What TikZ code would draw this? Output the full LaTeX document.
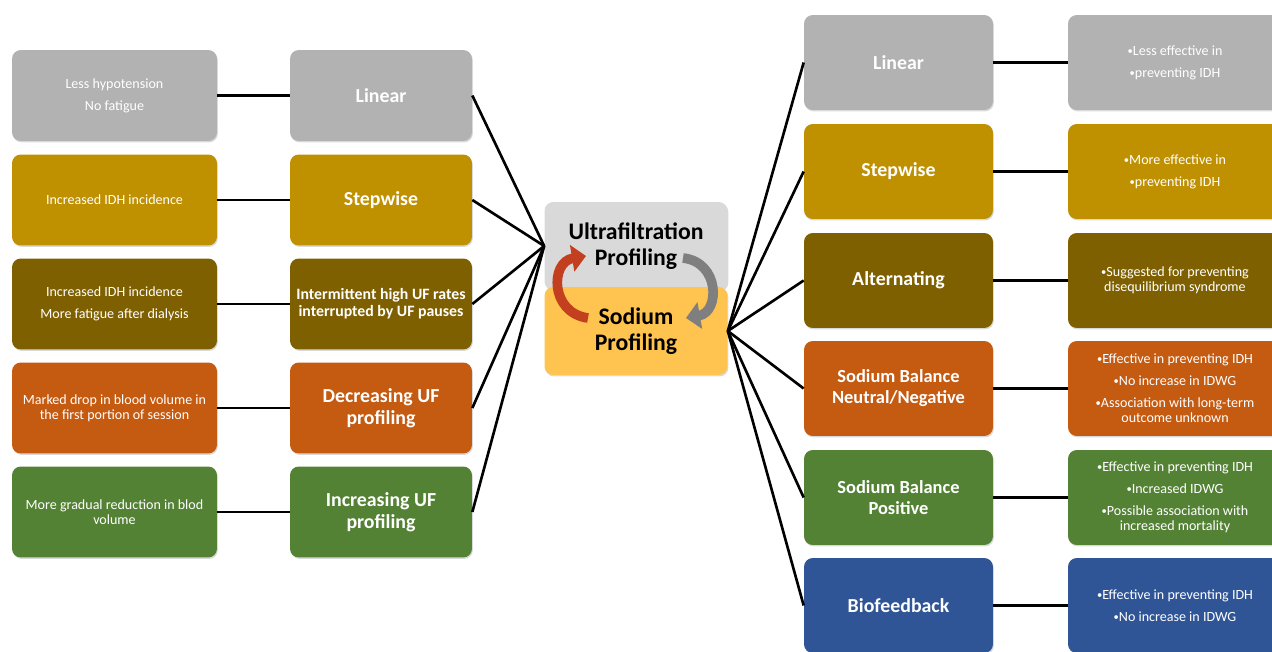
\documentclass[tikz,border=0pt]{standalone}
\usepackage{fontspec}
\setmainfont{Carlito}
\usetikzlibrary{arrows.meta,shadows}

\definecolor{cGray}{HTML}{B2B2B2}
\definecolor{cLight}{HTML}{D9D9D9}
\definecolor{cGold}{HTML}{BF9000}
\definecolor{cOlive}{HTML}{7F6000}
\definecolor{cOrange}{HTML}{C55A11}
\definecolor{cGreen}{HTML}{548235}
\definecolor{cBlue}{HTML}{2F5597}
\definecolor{cYellow}{HTML}{FFC34F}
\definecolor{cRed}{HTML}{C2401F}
\definecolor{cArrow}{HTML}{7F7F7F}

\newcommand{\blt}{{\fontsize{6}{6}\selectfont\raisebox{.2ex}{•}}}

\tikzset{
  box/.style={rounded corners=5pt, fill=#1, text=white, align=center, inner sep=1pt,
    drop shadow={opacity=.3, shadow xshift=.5pt, shadow yshift=-.8pt}},
  notebox/.style={box=#1, minimum width=4.1cm, minimum height=1.82cm,
    font=\fontsize{8}{8.5}\selectfont},
  rnotebox/.style={box=#1, minimum width=4.28cm, minimum height=1.9cm,
    font=\fontsize{8}{8.5}\selectfont},
  link/.style={line width=1.5pt},
  turn/.style={line width=5.5pt, -{Triangle[length=8pt, width=15pt]}}
}

\begin{document}
\begin{tikzpicture}[x=0.02cm, y=-0.02cm]
\clip (0,0) rectangle (1272,652);

% centre
\node[box=cLight, text=black, minimum width=3.66cm, minimum height=1.76cm,
  font=\fontsize{13.5}{14.8}\bfseries] (uf) at (636,246) {Ultrafiltration\\Profiling};
\node[box=cYellow, text=black, minimum width=3.66cm, minimum height=1.76cm,
  font=\fontsize{13.5}{14.8}\bfseries] (na) at (636,331) {Sodium\\Profiling};
\draw[turn, cRed] (588,318) .. controls (550,313) and (550,262) .. (586,256);
\draw[turn, cArrow] (683,258) .. controls (720,262) and (720,312) .. (686,318);

% left side
\foreach \y/\col/\fs/\bs/\title/\note [count=\n] in {
  95.5/cGray/11.3/12.5/{Linear}/{Less hypotension\\[4pt]No fatigue},
  200/cGold/11.3/12.5/{Stepwise}/{Increased IDH incidence},
  304/cOlive/9/9.5/{Intermittent high UF rates\\interrupted by UF pauses}/{Increased IDH incidence\\[4pt]More fatigue after dialysis},
  408/cOrange/11.3/12.5/{Decreasing UF\\profiling}/{Marked drop in blood volume in\\the first portion of session},
  512/cGreen/11.3/12.5/{Increasing UF\\profiling}/{More gradual reduction in blod\\volume}} {
  \node[notebox=\col] (ln\n) at (114.5,\y) {\note};
  \node[box=\col, minimum width=3.64cm, minimum height=1.82cm,
    font=\fontsize{\fs}{\bs}\selectfont\bfseries] (lt\n) at (381,\y) {\title};
  \draw[link] (ln\n.east) -- (lt\n.west);
  \draw[link] (lt\n.east) -- (uf.west);
}

% right side
\foreach \y/\col/\fs/\title/\note [count=\n] in {
  62.5/cGray/11.3/{Linear}/{\blt Less effective in\\[4pt]\blt preventing IDH},
  171.5/cGold/11.3/{Stepwise}/{\blt More effective in\\[4pt]\blt preventing IDH},
  280.5/cOlive/11.3/{Alternating}/{\blt Suggested for preventing\\disequilibrium syndrome},
  388.5/cOrange/10.5/{Sodium Balance\\Neutral/Negative}/{\blt Effective in preventing IDH\\[4pt]\blt No increase in IDWG\\[4pt]\blt Association with long-term\\outcome unknown},
  497.5/cGreen/10.5/{Sodium Balance\\Positive}/{\blt Effective in preventing IDH\\[4pt]\blt Increased IDWG\\[4pt]\blt Possible association with\\increased mortality},
  605.5/cBlue/11.3/{Biofeedback}/{\blt Effective in preventing IDH\\[4pt]\blt No increase in IDWG}} {
  \node[box=\col, minimum width=3.78cm, minimum height=1.9cm,
    font=\fontsize{\fs}{12}\selectfont\bfseries] (rt\n) at (898.5,\y) {\title};
  \node[rnotebox=\col] (rn\n) at (1175,\y) {\note};
  \draw[link] (rt\n.east) -- (rn\n.west);
  \draw[link] (na.east) -- (rt\n.west);
}
\end{tikzpicture}
\end{document}
